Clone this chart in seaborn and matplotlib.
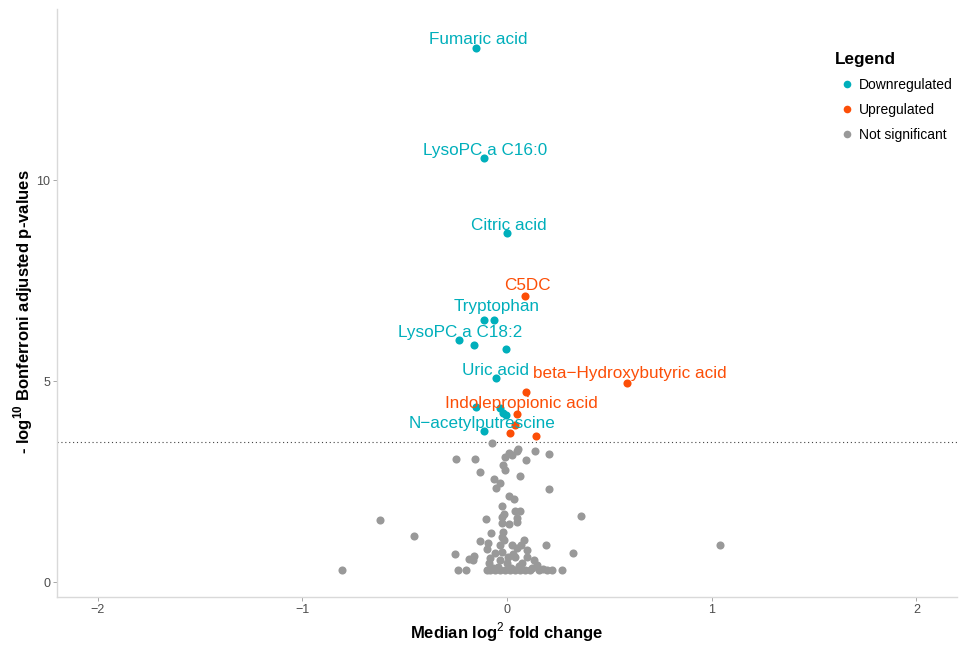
import numpy as np
import pandas as pd
import seaborn as sns
import matplotlib.pyplot as plt

# significant metabolites
down_names = ["Fumaric acid", "LysoPC a C16:0", "Citric acid", "Tryptophan", "",
              "LysoPC a C18:2", "", "", "Uric acid", "", "", "", "",
              "N\u2212acetylputrescine"]
down_fc = [-0.151, -0.112, 0.000, -0.112, -0.063, -0.234, -0.161, -0.005,
           -0.054, -0.151, -0.034, -0.020, -0.005, -0.112]
down_p = [13.29, 10.55, 8.68, 6.53, 6.53, 6.03, 5.91, 5.81, 5.09, 4.36,
          4.34, 4.22, 4.15, 3.77]

up_names = ["C5DC", "", "beta\u2212Hydroxybutyric acid", "Indolepropionic acid",
            "", "", ""]
up_fc = [0.088, 0.093, 0.586, 0.049, 0.039, 0.015, 0.142]
up_p = [7.13, 4.74, 4.96, 4.19, 3.92, 3.72, 3.64]

ns_fc = [-0.075, -0.251, -0.156, -0.010, 0.011, 0.047, 0.055, 0.023, 0.137, 0.204,
         0.094, -0.018, -0.010, -0.133, -0.065, -0.034, -0.054, 0.065, 0.204, 0.010,
         0.034, -0.024, 0.039, 0.065, -0.013, -0.024, 0.047, -0.101, -0.023, 0.008,
         0.047, -0.622, 0.361, -0.453, -0.077, -0.021, -0.026, -0.130, -0.091, -0.033,
         0.083, 0.068, 0.026, 0.189, -0.099, -0.059, -0.026, 0.047, 0.096, -0.255,
         0.322, -0.160, -0.186, -0.165, -0.083, -0.034, 0.039, 0.098, 0.132, -0.088,
         -0.001, 0.072, 0.145, -0.806, -0.238, -0.202, -0.099, -0.083, -0.059, -0.034,
         -0.010, 0.015, 0.039, 0.063, 0.088, 0.112, 0.158, 0.194, 0.221, 0.270,
         1.040, -0.045, 0.020, 0.060, 0.120, -0.070, 0.175, 0.003, 0.030, -0.015]
ns_p = [3.46, 3.07, 3.07, 3.12, 3.22, 3.27, 3.32, 3.17, 3.27, 3.18,
        3.05, 2.92, 2.79, 2.73, 2.57, 2.46, 2.35, 2.64, 2.32, 2.14,
        2.07, 1.89, 1.77, 1.77, 1.69, 1.61, 1.59, 1.58, 1.47, 1.44,
        1.50, 1.54, 1.65, 1.15, 1.23, 1.25, 1.13, 1.02, 0.97, 0.92,
        1.05, 0.92, 0.92, 0.93, 0.82, 0.72, 0.76, 0.84, 0.80, 0.70,
        0.72, 0.66, 0.57, 0.55, 0.59, 0.55, 0.63, 0.62, 0.55, 0.47,
        0.47, 0.47, 0.42, 0.29, 0.29, 0.29, 0.30, 0.29, 0.31, 0.29,
        0.30, 0.29, 0.31, 0.29, 0.30, 0.29, 0.30, 0.29, 0.30, 0.29,
        0.92, 0.38, 0.36, 0.40, 0.34, 0.34, 0.33, 0.62, 0.70, 1.05]

threshold = 3.49

# label offsets in pixels (dx, dy) relative to the point
label_offsets = {
    "Fumaric acid": (2, 9),
    "LysoPC a C16:0": (1, 8),
    "Citric acid": (2, 8),
    "C5DC": (2, 10),
    "Tryptophan": (13, 13),
    "LysoPC a C18:2": (1, 7),
    "Uric acid": (0, 7),
    "beta\u2212Hydroxybutyric acid": (3, 9),
    "Indolepropionic acid": (4, 10),
    "N\u2212acetylputrescine": (-2, 7),
}

colors = {"Downregulated": "#00AFBB", "Upregulated": "#FC4E07",
          "Not significant": "#999999"}

df = pd.DataFrame({
    "fc": down_fc + up_fc + ns_fc,
    "p": down_p + up_p + ns_p,
    "status": ["Downregulated"] * len(down_fc) + ["Upregulated"] * len(up_fc)
              + ["Not significant"] * len(ns_fc),
    "name": down_names + up_names + [""] * len(ns_fc),
})

sns.set_style("white")
plt.rcParams['font.family'] = ['Liberation Sans', 'DejaVu Sans']
plt.rcParams['mathtext.fontset'] = 'custom'
plt.rcParams['mathtext.rm'] = 'Liberation Sans'
plt.rcParams['mathtext.bf'] = 'Liberation Sans:bold'
plt.rcParams['text.color'] = 'black'
plt.rcParams['axes.labelcolor'] = 'black'

fig = plt.figure(figsize=(9.63, 6.48), dpi=100)
ax = fig.add_axes([0.0592, 0.0787, 0.9346, 0.907])

# plot grey first so coloured points sit on top
order = ["Not significant", "Downregulated", "Upregulated"]
for st in order:
    sub = df[df.status == st]
    sns.scatterplot(data=sub, x="fc", y="p", color=colors[st], s=34,
                    linewidth=0, ax=ax, legend=False, zorder=3)

ax.axhline(threshold, color="#444444", lw=0.8, ls=(0, (1, 2.5)), zorder=2)

for _, r in df[df.name != ""].iterrows():
    dx, dy = label_offsets[r["name"]]
    ax.annotate(r["name"], (r.fc, r.p), xytext=(dx * 0.72, dy * 0.72),
                textcoords="offset points", ha="center", va="center",
                fontsize=12.3, color=colors[r.status], zorder=4)

ax.set_xlim(-2.198, 2.198)
ax.set_ylim(-0.37, 14.26)
ax.set_xticks([-2, -1, 0, 1, 2])
ax.set_xticklabels(["\u22122", "\u22121", "0", "1", "2"])
ax.set_yticks([0, 5, 10])
ax.tick_params(axis="both", length=3, width=0.6, color="#999999",
               labelsize=9, labelcolor="#4D4D4D", pad=2, direction="out")
ax.tick_params(axis="both", which="both", bottom=True, left=True)

for s in ["top", "right"]:
    ax.spines[s].set_visible(False)
for s in ["left", "bottom"]:
    ax.spines[s].set_color("#D9D9D9")
    ax.spines[s].set_linewidth(1.0)

ax.set_xlabel(r"Median log$^{2}$ fold change", fontsize=12, fontweight="bold",
              labelpad=3)
ax.set_ylabel(r"- log$^{\mathbf{10}}$ Bonferroni adjusted p-values", fontsize=12,
              fontweight="bold")
ax.yaxis.set_label_coords(-0.0245, 0.485)

handles = [plt.Line2D([], [], marker="o", ls="", color=colors[k], markersize=5.5,
                      markeredgewidth=0) for k in ["Downregulated", "Upregulated",
                                                   "Not significant"]]
leg = ax.legend(handles, ["Downregulated", "Upregulated", "Not significant"],
                title="Legend", loc="upper left", bbox_to_anchor=(0.8583, 0.936),
                frameon=False, fontsize=10, handletextpad=0.05, labelspacing=0.78,
                handlelength=1.7, borderaxespad=0)
leg.get_title().set_fontweight("bold")
leg.get_title().set_fontsize(12.3)
leg._legend_box.align = "left"

fig.savefig("out.png", dpi=100)
